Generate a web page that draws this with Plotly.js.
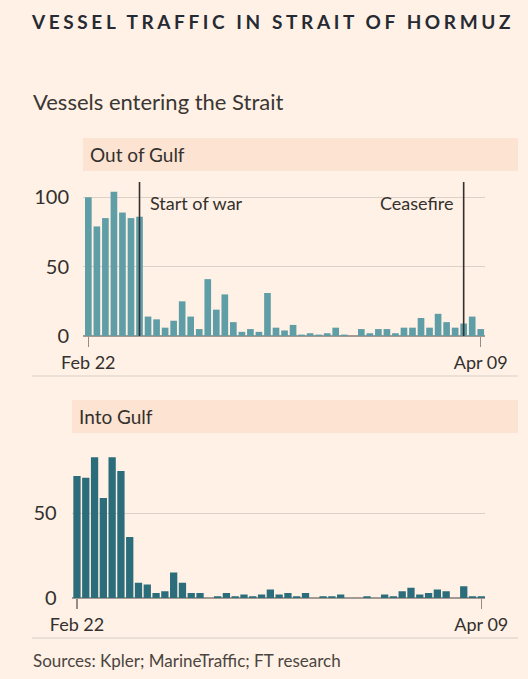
<!DOCTYPE html>
<html>
<head>
<meta charset="utf-8">
<script src="https://cdn.plot.ly/plotly-3.0.1.min.js"></script>
<style>
  html, body { margin: 0; padding: 0; background: #FFF1E5; }
  #chart { width: 528px; height: 679px; }
</style>
</head>
<body>
<div id="chart"></div>
<script>
// ---- Data ----
const dates = [
  "2026-02-22","2026-02-23","2026-02-24","2026-02-25","2026-02-26","2026-02-27","2026-02-28",
  "2026-03-01","2026-03-02","2026-03-03","2026-03-04","2026-03-05","2026-03-06","2026-03-07",
  "2026-03-08","2026-03-09","2026-03-10","2026-03-11","2026-03-12","2026-03-13","2026-03-14",
  "2026-03-15","2026-03-16","2026-03-17","2026-03-18","2026-03-19","2026-03-20","2026-03-21",
  "2026-03-22","2026-03-23","2026-03-24","2026-03-25","2026-03-26","2026-03-27","2026-03-28",
  "2026-03-29","2026-03-30","2026-03-31","2026-04-01","2026-04-02","2026-04-03","2026-04-04",
  "2026-04-05","2026-04-06","2026-04-07","2026-04-08","2026-04-09"
];
const outOfGulf = [
  100, 79, 85, 104, 89, 85, 86,
  14, 12, 6, 11, 25, 14, 5,
  41, 19, 30, 10, 3, 5, 3,
  31, 6, 4, 8, 1, 2, 1,
  2, 6, 1, 0, 5, 2, 5,
  5, 2, 6, 6, 13, 6, 16,
  10, 6, 9, 14, 5
];
const intoGulf = [
  72, 71, 83, 59, 83, 75, 36,
  9, 8, 3, 4, 15, 9, 3,
  3, 0, 1, 3, 1, 2, 1,
  2, 5, 2, 3, 1, 3, 0,
  1, 1, 2, 0, 0, 1, 0,
  2, 1, 4, 6, 2, 3, 5,
  4, 0, 7, 1, 1
];
const xTickVals = ["2026-02-22", "2026-04-09"];
const xTickText = ["Feb 22", "Apr 09"];
const topYTicks = [0, 50, 100];
const bottomYTicks = [0, 50];
const eventDates = ["2026-02-28", "2026-04-07"];
const eventLabels = ["Start of war", "Ceasefire"];

// ---- Helpers ----
const W = 528, H = 679;
const px = v => v / W;
const py = v => 1 - v / H;
const DAY = 86400000;
const FONT = "Lato, 'Open Sans', sans-serif";
const TXT = "#33302e";

const traces = [
  {
    type: "bar", x: dates, y: outOfGulf, xaxis: "x", yaxis: "y",
    width: 0.78 * DAY,
    marker: { color: "#5f9ea7", line: { width: 0 } },
    hoverinfo: "x+y"
  },
  {
    type: "bar", x: dates, y: intoGulf, xaxis: "x2", yaxis: "y2",
    width: 0.83 * DAY,
    marker: { color: "#2c6d7b", line: { width: 0 } },
    hoverinfo: "x+y"
  }
];

const commonX = {
  type: "date",
  tickvals: xTickVals, ticktext: xTickText,
  ticks: "outside", ticklen: 10, tickwidth: 1.5, tickcolor: "#958d86",
  showgrid: false, showline: false, zeroline: false,
  tickfont: { family: FONT, size: 18, color: TXT },
  fixedrange: true
};
const commonY = {
  showgrid: true, gridcolor: "#dcd1c8", gridwidth: 1.3,
  zeroline: true, zerolinecolor: "#a39a93", zerolinewidth: 1.6,
  showline: false, ticks: "",
  tickfont: { family: FONT, size: 20, color: TXT },
  fixedrange: true
};

const layout = {
  width: W, height: H,
  margin: { l: 0, r: 0, t: 0, b: 0 },
  paper_bgcolor: "#FFF1E5",
  plot_bgcolor: "rgba(0,0,0,0)",
  showlegend: false,
  bargap: 0.2,
  xaxis: Object.assign({}, commonX, {
    domain: [px(83), px(485)], anchor: "y",
    range: ["2026-02-21 09:00", "2026-04-09 12:00"]
  }),
  yaxis: Object.assign({}, commonY, {
    domain: [py(336), py(183)], anchor: "x",
    range: [0, 110.3], tickvals: topYTicks, ticklabelstandoff: 13
  }),
  xaxis2: Object.assign({}, commonX, {
    domain: [px(71.7), px(485)], anchor: "y2",
    range: ["2026-02-21 09:36", "2026-04-09 10:05"]
  }),
  yaxis2: Object.assign({}, commonY, {
    domain: [py(598), py(445)], anchor: "x2",
    range: [0, 90.3], tickvals: bottomYTicks, ticklabelstandoff: 14
  }),
  shapes: [
    { type: "rect", xref: "paper", yref: "paper", x0: px(83), x1: px(518), y0: py(171), y1: py(138),
      fillcolor: "#fde3d1", line: { width: 0 }, layer: "below" },
    { type: "rect", xref: "paper", yref: "paper", x0: px(72), x1: px(518), y0: py(433), y1: py(400),
      fillcolor: "#fde3d1", line: { width: 0 }, layer: "below" },
    { type: "line", xref: "paper", yref: "paper", x0: px(32), x1: px(518), y0: py(376), y1: py(376),
      line: { color: "#e4dad1", width: 1.5 } },
    { type: "line", xref: "paper", yref: "paper", x0: px(32), x1: px(518), y0: py(638), y1: py(638),
      line: { color: "#e4dad1", width: 1.5 } }
  ].concat(eventDates.map(d => ({
    type: "line", xref: "x", yref: "paper", x0: d, x1: d, y0: py(336), y1: py(182),
    line: { color: "#33302e", width: 1.6 }
  }))),
  annotations: [
    { xref: "paper", yref: "paper", x: px(272), y: py(22), xanchor: "center", yanchor: "middle",
      showarrow: false,
      text: "<span style='letter-spacing:3.6px'><b>VESSEL TRAFFIC IN STRAIT OF HORMUZ</b></span>",
      font: { family: FONT, size: 19, color: "#262a33" } },
    { xref: "paper", yref: "paper", x: px(31), y: py(101), xanchor: "left", yanchor: "middle",
      showarrow: false, text: "Vessels entering the Strait",
      font: { family: FONT, size: 22, color: "#3a3633" } },
    { xref: "paper", yref: "paper", x: px(88), y: py(155), xanchor: "left", yanchor: "middle",
      showarrow: false, text: "Out of Gulf",
      font: { family: FONT, size: 19, color: TXT } },
    { xref: "paper", yref: "paper", x: px(77), y: py(416), xanchor: "left", yanchor: "middle",
      showarrow: false, text: "Into Gulf",
      font: { family: FONT, size: 19, color: TXT } },
    { xref: "x", yref: "paper", x: eventDates[0], y: py(203), xanchor: "left", yanchor: "middle",
      xshift: 8, showarrow: false, text: eventLabels[0],
      font: { family: FONT, size: 18, color: TXT } },
    { xref: "x", yref: "paper", x: eventDates[1], y: py(203), xanchor: "right", yanchor: "middle",
      xshift: -8, showarrow: false, text: eventLabels[1],
      font: { family: FONT, size: 18, color: TXT } },
    { xref: "paper", yref: "paper", x: px(31), y: py(660), xanchor: "left", yanchor: "middle",
      showarrow: false, text: "Sources: Kpler; MarineTraffic; FT research",
      font: { family: FONT, size: 17, color: "#4a4541" } }
  ]
};

Plotly.newPlot("chart", traces, layout, { staticPlot: true, displayModeBar: false });
</script>
</body>
</html>
